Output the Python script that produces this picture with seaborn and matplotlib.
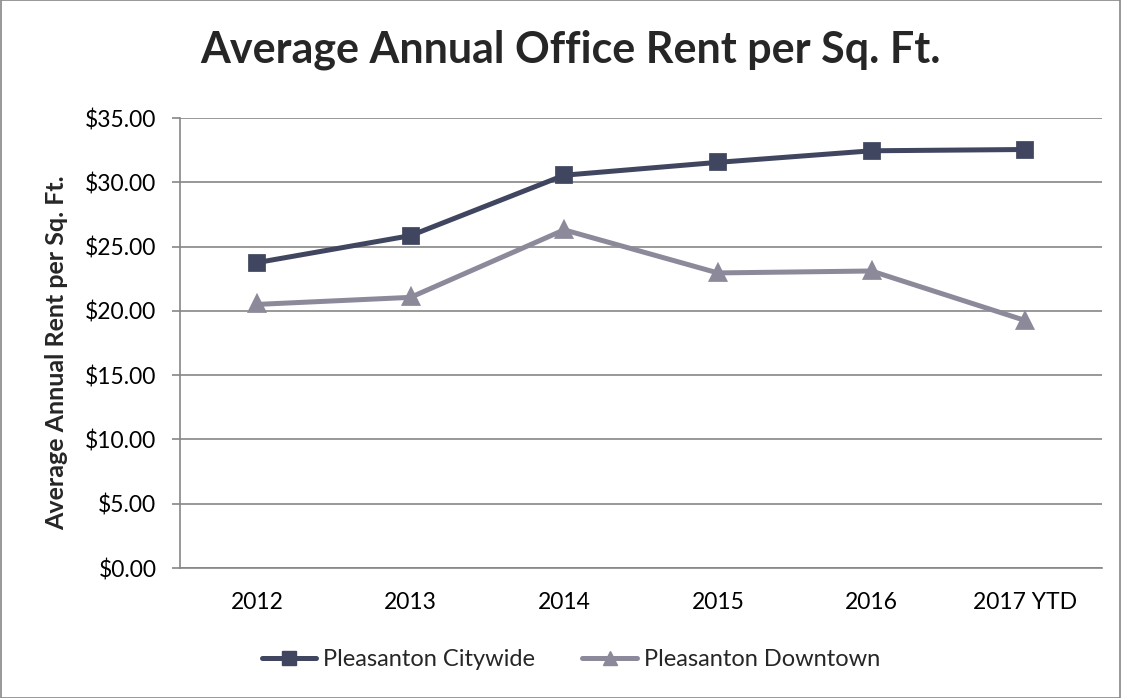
import numpy as np
import pandas as pd
import matplotlib.pyplot as plt
import matplotlib.patches as mpatches
from matplotlib.lines import Line2D
from matplotlib.ticker import FuncFormatter, FixedLocator
import seaborn as sns

# Data
years = ["2012", "2013", "2014", "2015", "2016", "2017 YTD"]
citywide = [23.75, 25.85, 30.55, 31.55, 32.45, 32.55]
downtown = [20.50, 21.05, 26.30, 22.95, 23.10, 19.25]
series_names = ["Pleasanton Citywide", "Pleasanton Downtown"]

colors = ["#404660", "#8C8A9A"]
markers = ["s", "^"]
grid_color = "#868686"

df = pd.DataFrame(
    {
        "year": years * 2,
        "rent": citywide + downtown,
        "series": [series_names[0]] * len(years) + [series_names[1]] * len(years),
    }
)

sns.set_style("white")
plt.rcParams["font.family"] = ["Lato", "DejaVu Sans"]

W, H = 1121, 698
fig = plt.figure(figsize=(W / 100, H / 100), dpi=100)
ax = fig.add_axes([180 / W, 1 - 568 / H, (1102 - 180) / W, (568 - 118) / H])

sns.pointplot(
    data=df,
    x="year",
    y="rent",
    hue="series",
    order=years,
    hue_order=series_names,
    palette=colors,
    markers=markers,
    linestyles=["-", "-"],
    errorbar=None,
    markersize=10,
    linewidth=3.6,
    legend=False,
    ax=ax,
)

# Axes styling (Excel look)
ax.set_ylim(0, 35)
ax.set_xlim(-0.5, len(years) - 0.5)
ax.yaxis.set_major_locator(FixedLocator(np.arange(0, 36, 5)))
ax.yaxis.set_major_formatter(FuncFormatter(lambda v, p: f"${v:,.2f}"))
ax.grid(axis="y", color=grid_color, linewidth=1.2)
ax.set_axisbelow(True)
for s in ["top", "right"]:
    ax.spines[s].set_visible(False)
for s in ["left", "bottom"]:
    ax.spines[s].set_color(grid_color)
    ax.spines[s].set_linewidth(1.2)

# category boundaries get the tick marks, labels sit between them
ax.xaxis.set_minor_locator(FixedLocator(np.arange(-0.5, len(years), 1.0)))
ax.tick_params(axis="x", which="major", length=0, pad=17, labelsize=16.5, colors="black")
ax.tick_params(axis="x", which="minor", length=6, width=1.2, color=grid_color, direction="out")
ax.tick_params(axis="y", length=6, width=1.2, color=grid_color, direction="out",
               pad=11, labelsize=16.5, labelcolor="black", left=True)

ax.set_xlabel("")
ax.set_ylabel("")
fig.text(57 / W, 1 - 353 / H, "Average Annual Rent per Sq. Ft.", rotation=90,
         ha="center", va="center", fontsize=18, fontweight="bold")

fig.text(570 / W, 1 - 63 / H, "Average Annual Office Rent per Sq. Ft.",
         ha="center", va="baseline", fontsize=31, fontweight="bold")

handles = [
    Line2D([], [], color=colors[i], marker=markers[i], markersize=10, linewidth=3.6)
    for i in range(2)
]
fig.legend(handles, series_names, loc="center", bbox_to_anchor=(571 / W, 1 - 660 / H),
           ncol=2, frameon=False, fontsize=17, handlelength=2.3, columnspacing=2.0,
           handletextpad=0.3)

fig.patches.append(mpatches.Rectangle((0.0005, 0.0005), 0.999, 0.999, transform=fig.transFigure,
                                      fill=False, edgecolor=grid_color, linewidth=1.2))

fig.savefig("out.png", dpi=100)
